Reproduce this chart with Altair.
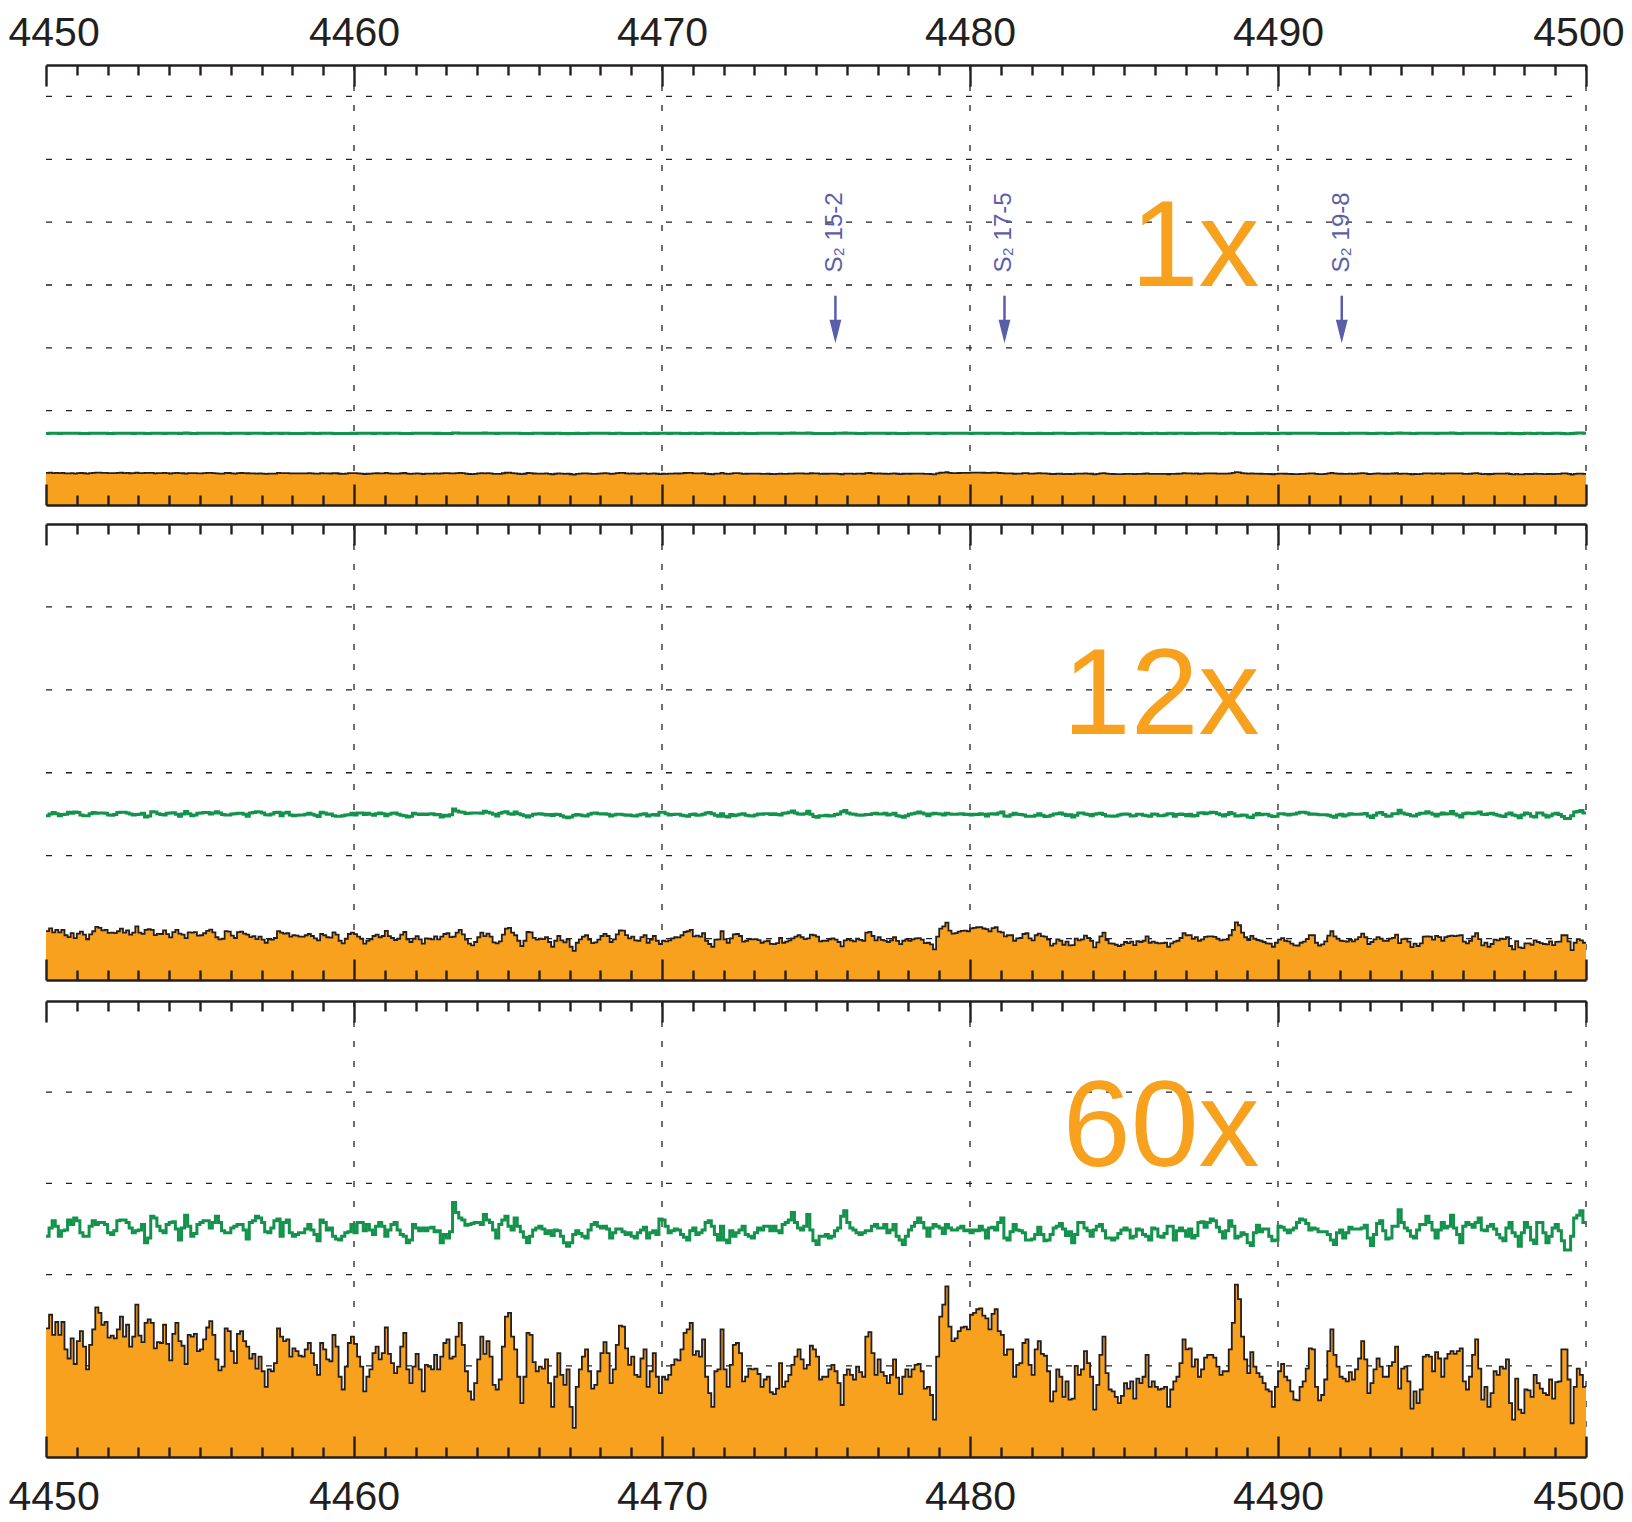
import altair as alt
import numpy as np
import pandas as pd

# ------------------------------------------------------------------ data
LAM_START = 4450.0   # first bin edge (Angstrom)
LAM_STEP = 0.1       # bin width (Angstrom)

# observed spectrum (orange), units: 0.1 grid step of the 60x panel
FLUX = [
    # 4450.0 - 4456.2
    14.1, 15.6, 13.4, 14.8, 13.4, 14.8, 11.8, 10.8, 13.0, 10.2,
    12.7, 13.8, 12.1, 9.6, 12.3, 14.0, 16.4, 15.8, 14.5, 14.8,
    13.1, 13.3, 13.0, 14.0, 15.4, 13.2, 14.5, 12.1, 13.2, 16.7,
    13.3, 12.6, 14.7, 15.1, 14.7, 11.9, 12.6, 12.5, 14.5, 12.4,
    10.6, 13.5, 14.7, 12.7, 12.2, 10.2, 13.4, 13.2, 13.5, 11.6,
    11.8, 12.9, 14.2, 14.9, 13.4, 10.7, 9.5, 9.9, 14.1, 13.8,
    11.6, 10.3, 13.5,
    # 4456.3 - 4462.4
    13.8, 12.7, 12.1, 10.8, 11.3, 9.7, 11.0, 9.4, 7.7, 9.6,
    9.4, 10.3, 14.1, 13.2, 12.7, 12.9, 11.0, 11.9, 11.6, 11.1,
    11.0, 11.8, 12.5, 11.4, 10.1, 9.0, 12.5, 11.8, 10.7, 10.5,
    13.4, 12.1, 8.8, 7.4, 9.9, 12.5, 13.2, 12.4, 11.0, 9.9,
    7.2, 8.8, 9.6, 11.4, 12.1, 10.7, 11.4, 14.2, 11.3, 10.3,
    9.2, 9.9, 12.1, 13.6, 9.6, 8.1, 9.9, 11.3, 9.6, 7.2,
    10.1, 9.9,
    # 4462.5 - 4468.7
    9.6, 11.2, 9.6, 11.0, 12.5, 12.9, 10.8, 11.0, 13.2, 14.7,
    12.3, 9.4, 7.2, 6.3, 8.1, 10.7, 13.2, 11.3, 12.7, 11.0,
    7.9, 7.4, 8.5, 12.1, 15.4, 15.8, 13.2, 11.8, 8.8, 5.9,
    8.8, 13.6, 13.4, 10.4, 9.4, 9.9, 9.7, 10.7, 8.1, 5.5,
    8.8, 11.4, 9.0, 7.9, 9.6, 5.5, 3.2, 7.7, 9.6, 11.0,
    11.8, 9.4, 7.5, 7.9, 9.4, 11.4, 12.6, 11.4, 8.1, 9.6,
    12.3, 14.4, 14.3,
    # 4468.8 - 4475.0
    11.9, 10.1, 11.0, 9.0, 8.8, 10.8, 11.8, 7.7, 9.4, 11.4,
    8.8, 7.0, 8.8, 8.5, 9.0, 10.1, 10.7, 10.6, 11.8, 13.6,
    14.0, 14.7, 11.2, 11.6, 11.0, 12.9, 8.8, 7.0, 5.5, 9.4,
    9.6, 14.0, 9.6, 7.7, 10.1, 12.3, 12.5, 11.4, 8.3, 8.8,
    9.7, 9.6, 9.7, 9.1, 7.7, 8.5, 8.8, 7.1, 6.9, 7.5,
    10.3, 7.7, 8.3, 9.0, 10.1, 11.0, 11.8, 10.7, 9.7, 10.1,
    12.2, 11.8, 11.0,
    # 4475.1 - 4481.2
    8.5, 8.8, 8.8, 9.6, 10.1, 9.4, 8.1, 5.7, 9.0, 9.6,
    9.0, 8.5, 9.9, 9.3, 8.8, 13.2, 13.7, 11.4, 9.0, 10.7,
    9.3, 8.9, 8.1, 9.0, 10.7, 8.7, 6.9, 8.8, 9.6, 8.8,
    9.6, 10.1, 10.2, 9.4, 7.5, 7.7, 6.8, 4.1, 11.0, 15.4,
    16.7, 18.7, 14.3, 12.7, 13.0, 13.8, 14.2, 14.3, 14.0, 15.6,
    15.8, 16.2, 16.3, 15.5, 15.2, 14.0, 15.7, 16.2, 13.8, 13.4,
    11.2, 11.8,
    # 4481.3 - 4487.5
    11.8, 8.8, 10.1, 10.3, 12.5, 12.9, 10.1, 9.0, 11.8, 12.7,
    11.3, 11.1, 9.4, 6.1, 7.2, 9.6, 8.8, 6.6, 8.3, 6.3,
    6.4, 10.0, 9.0, 9.6, 11.6, 10.3, 8.8, 5.2, 7.9, 11.2,
    13.2, 9.2, 7.4, 7.2, 6.6, 5.9, 6.7, 8.1, 7.5, 8.3,
    6.4, 8.6, 8.1, 8.8, 11.2, 7.7, 8.3, 7.7, 7.4, 7.5,
    7.7, 5.5, 7.4, 8.3, 8.8, 10.3, 12.9, 11.8, 11.9, 9.9,
    10.7, 8.8, 9.6,
    # 4487.6 - 4493.7
    10.9, 11.2, 11.2, 10.9, 9.9, 9.0, 9.4, 9.4, 11.8, 14.7,
    18.9, 17.3, 13.2, 10.7, 9.2, 11.5, 9.9, 9.2, 8.8, 8.1,
    7.4, 7.2, 5.5, 7.7, 9.4, 10.2, 8.8, 8.4, 7.2, 6.3,
    6.2, 7.7, 8.3, 9.7, 11.9, 11.8, 7.7, 6.2, 6.8, 8.5,
    11.6, 14.0, 11.2, 9.9, 8.8, 8.6, 8.3, 9.3, 8.5, 9.6,
    10.8, 12.7, 10.7, 7.0, 8.1, 9.6, 10.8, 9.9, 8.8, 8.8,
    10.0, 10.4,
    # 4493.8 - 4499.9
    12.1, 7.5, 9.7, 9.9, 8.3, 5.3, 7.2, 5.9, 7.4, 11.0,
    11.2, 11.0, 9.4, 11.5, 10.8, 8.8, 10.8, 11.3, 11.6, 11.3,
    11.6, 11.9, 8.3, 7.4, 8.8, 11.2, 12.9, 9.7, 6.3, 7.7,
    5.5, 7.0, 9.4, 9.0, 9.9, 9.7, 10.7, 5.9, 4.1, 8.6,
    5.2, 4.8, 7.4, 7.3, 6.6, 9.0, 8.1, 7.5, 7.0, 6.8,
    8.5, 6.4, 8.2, 8.3, 11.8, 11.8, 8.5, 3.7, 7.7, 9.7,
    9.0, 7.7,
]

# second trace (green), same units
RESID = [
    # 4450.0 - 4456.2
    24.2, 25.1, 25.9, 25.3, 24.2, 24.8, 24.9, 26.0, 25.5, 26.2,
    25.9, 24.6, 24.2, 24.2, 25.3, 25.9, 25.5, 25.7, 25.7, 25.5,
    24.6, 24.4, 24.8, 25.9, 26.0, 26.0, 25.7, 25.1, 24.6, 24.8,
    24.9, 25.5, 23.5, 24.0, 26.4, 26.2, 25.3, 24.8, 24.6, 25.5,
    25.7, 25.8, 25.0, 23.8, 25.1, 26.5, 25.3, 24.2, 24.5, 25.5,
    25.7, 25.9, 25.9, 25.1, 25.7, 26.4, 25.7, 24.8, 24.6, 24.6,
    25.1, 25.3, 25.5,
    # 4456.3 - 4462.4
    25.5, 24.9, 23.9, 25.7, 25.9, 26.4, 26.2, 25.7, 24.7, 24.6,
    25.1, 25.9, 26.1, 24.2, 25.7, 26.0, 24.6, 24.2, 24.4, 24.6,
    24.6, 25.0, 25.5, 24.9, 24.4, 23.7, 26.0, 25.7, 24.9, 25.1,
    24.2, 23.9, 23.8, 24.2, 24.6, 24.7, 25.5, 24.6, 25.7, 25.7,
    24.8, 25.5, 24.9, 24.4, 25.3, 25.7, 25.3, 24.2, 24.9, 25.5,
    25.7, 24.9, 24.4, 24.2, 23.5, 23.8, 25.5, 25.1, 24.8, 25.1,
    24.8, 25.1,
    # 4462.5 - 4468.7
    25.2, 24.7, 24.8, 23.5, 24.4, 24.0, 24.7, 27.9, 26.8, 26.2,
    26.0, 25.4, 25.5, 25.6, 25.7, 25.7, 25.5, 26.6, 26.0, 25.7,
    24.9, 24.0, 25.5, 26.0, 26.4, 25.3, 24.9, 26.2, 25.3, 24.7,
    24.1, 23.5, 24.2, 24.9, 25.1, 25.3, 25.0, 24.5, 24.8, 24.3,
    24.9, 24.8, 24.2, 23.5, 23.1, 23.5, 24.4, 24.8, 24.5, 24.2,
    24.0, 24.9, 25.5, 25.7, 25.3, 25.1, 25.3, 25.0, 24.0, 24.6,
    25.0, 25.0, 24.7,
    # 4468.8 - 4475.0
    24.4, 24.6, 24.2, 24.0, 24.6, 24.9, 25.2, 24.0, 24.6, 24.8,
    24.4, 26.1, 26.0, 25.3, 24.6, 24.8, 25.0, 24.9, 24.4, 24.1,
    23.8, 24.8, 25.1, 24.4, 24.6, 24.9, 25.7, 25.9, 25.3, 24.4,
    23.8, 25.3, 23.8, 23.5, 24.8, 24.2, 24.6, 24.9, 25.3, 24.4,
    24.2, 24.0, 24.6, 25.1, 24.9, 25.3, 25.3, 24.8, 25.3, 24.8,
    24.6, 25.5, 25.7, 26.0, 26.8, 25.7, 25.1, 24.9, 25.3, 26.6,
    24.9, 23.7, 23.3,
    # 4475.1 - 4481.2
    24.2, 24.2, 24.4, 24.0, 24.2, 24.8, 25.1, 26.4, 27.0, 25.7,
    25.1, 24.9, 24.6, 24.4, 24.6, 24.8, 24.8, 25.3, 25.5, 25.1,
    25.1, 25.5, 24.6, 24.9, 25.5, 24.2, 23.8, 23.3, 24.2, 24.9,
    25.3, 25.7, 26.2, 25.7, 25.1, 24.2, 25.1, 25.5, 25.3, 25.1,
    24.5, 25.5, 25.1, 24.9, 24.9, 25.1, 25.3, 24.8, 24.9, 24.6,
    24.9, 24.8, 25.3, 24.9, 24.0, 25.1, 25.2, 24.9, 25.7, 26.2,
    24.0, 23.8,
    # 4481.3 - 4487.5
    24.7, 25.5, 24.9, 24.8, 24.6, 23.8, 23.8, 23.9, 24.4, 25.2,
    24.4, 23.7, 23.8, 24.4, 25.1, 25.3, 25.6, 25.0, 24.3, 24.7,
    23.5, 24.4, 25.7, 25.7, 25.1, 24.8, 24.2, 24.9, 25.3, 25.5,
    24.8, 24.0, 24.0, 23.8, 24.0, 24.5, 24.9, 25.1, 24.9, 24.0,
    24.2, 25.0, 24.9, 24.4, 24.2, 23.8, 25.1, 25.0, 24.2, 24.1,
    24.5, 25.3, 25.3, 23.8, 24.8, 25.1, 24.8, 24.2, 25.0, 24.0,
    24.3, 25.7, 25.8,
    # 4487.6 - 4493.7
    25.2, 25.7, 26.1, 25.9, 25.2, 24.7, 24.0, 24.8, 25.9, 25.3,
    24.0, 24.2, 24.6, 24.4, 23.5, 23.2, 24.6, 25.4, 24.7, 25.0,
    25.0, 24.2, 23.7, 23.8, 25.3, 25.2, 24.9, 24.6, 24.9, 25.1,
    25.7, 26.1, 26.0, 25.6, 24.9, 25.1, 25.0, 24.7, 24.7, 24.7,
    24.4, 23.8, 23.3, 24.6, 24.9, 24.0, 24.6, 25.2, 25.0, 25.0,
    25.0, 25.1, 25.4, 24.0, 23.2, 24.4, 25.6, 25.9, 24.8, 23.9,
    24.0, 25.3,
    # 4493.8 - 4499.9
    25.3, 27.1, 25.7, 25.1, 24.8, 24.2, 24.0, 24.9, 25.5, 25.5,
    26.4, 25.7, 24.9, 24.0, 24.9, 25.7, 25.1, 25.3, 26.5, 25.1,
    24.4, 23.5, 25.3, 25.7, 25.5, 25.2, 25.7, 26.2, 24.9, 24.8,
    25.3, 25.5, 25.0, 24.4, 24.0, 23.7, 25.1, 25.7, 24.6, 24.2,
    23.1, 24.6, 25.7, 25.2, 23.8, 23.4, 25.7, 25.7, 24.6, 23.5,
    24.2, 25.1, 25.5, 24.8, 23.7, 22.7, 22.7, 24.2, 26.2, 26.5,
    27.0, 25.7,
]

assert len(FLUX) == 500, len(FLUX)
assert len(RESID) == 500, len(RESID)

TICKS_MINOR = list(range(4450, 4501, 1))
TICKS_MAJOR = list(range(4450, 4501, 10))
GRID_X = [4460, 4470, 4480, 4490, 4500]

PANEL_NAMES = ["1x", "12x", "60x"]
PANEL_HEIGHT = [440, 456, 456]
Y_LO = [-5, -5, 0]
Y_HI = [65, 50, 50]
GRID_Y = [[0, 10, 20, 30, 40, 50, 60], [0, 10, 20, 30, 40], [10, 20, 30, 40]]
GAIN = [0.0242, 0.22, 1.0]          # vertical magnification in panel units
ORANGE_LEVEL = [0, 0, 10]
GREEN_LEVEL = [6.4, 15, 25]
FLUX_REF = 10
RESID_REF = 25
LABEL_LAM = 4489.4
LABEL_Y = [29.8, 24.7, 31.9]

ANNOT_TEXT = ["S\u2082 15-2", "S\u2082 17-5", "S\u2082 19-8"]
ANNOT_LAM = [4475.63, 4481.12, 4492.07]
ANNOT_TEXT_Y = 32.0
ARROW_TOP = 28.3
ARROW_STEM_END = 24.0
ARROW_HEAD_Y = 22.6

# ------------------------------------------------------------------ style
BLACK = "#231F20"
ORANGE = "#F7A11E"
GREEN = "#12924A"
BLUE = "#5A5EAA"
FONT = "Liberation Sans"
WIDTH = 1540
ARROW_PATH = "M -0.5 -1 L 0.5 -1 L 0 1 Z"
DASH = [6, 14]

lam = LAM_START + LAM_STEP * np.arange(len(FLUX) + 1)
flux = np.array(FLUX + FLUX[-1:])
resid = np.array(RESID + RESID[-1:])

xsc = alt.Scale(domain=[4450, 4500], nice=False, zero=False)
TICK_SIZE = {"condition": {"test": "datum.value % 10 === 0", "value": 21}, "value": 10}


def tick_axis(orient, H):
    return alt.Axis(orient=orient, offset=-H, values=TICKS_MINOR, labels=False,
                    grid=False, title=None, domain=True, domainColor=BLACK,
                    domainWidth=2.6, ticks=True, tickColor=BLACK, tickWidth=2.4,
                    tickSize=TICK_SIZE, zindex=2)


def label_axis(orient):
    return alt.Axis(orient=orient, values=TICKS_MAJOR, format="d", labels=True,
                    grid=False, title=None, domain=False, ticks=False, tickSize=0,
                    labelFont=FONT, labelFontSize=41, labelColor=BLACK,
                    labelPadding=11 if orient == "top" else 20,
                    labelFlush=True, labelFlushOffset=38, zindex=2)


def X(axis):
    return alt.X("lam:Q", scale=xsc, axis=axis)


def make_panel(i):
    H = PANEL_HEIGHT[i]
    ysc = alt.Scale(domain=[Y_LO[i], Y_HI[i]], nice=False, zero=False)
    df = pd.DataFrame({
        "lam": lam,
        "orange": ORANGE_LEVEL[i] + (flux - FLUX_REF) * GAIN[i],
        "green": GREEN_LEVEL[i] + (resid - RESID_REF) * GAIN[i],
        "bottom": float(Y_LO[i]),
    })
    gridx = alt.Chart(pd.DataFrame({"lam": GRID_X})).mark_rule(
        color=BLACK, strokeWidth=1.3, strokeDash=DASH).encode(x=X(None))
    gridy = alt.Chart(pd.DataFrame({"v": GRID_Y[i]})).mark_rule(
        color=BLACK, strokeWidth=1.3, strokeDash=DASH, strokeDashOffset=6).encode(
        y=alt.Y("v:Q", scale=ysc, axis=None))
    area = alt.Chart(df).mark_area(interpolate="step-after", color=ORANGE, opacity=1).encode(
        x=X(tick_axis("bottom", H)),
        y=alt.Y("orange:Q", scale=ysc, axis=None),
        y2="bottom:Q")
    outline = alt.Chart(df).mark_line(interpolate="step-after", color=BLACK, strokeWidth=1.8).encode(
        x=X(tick_axis("top", H)),
        y=alt.Y("orange:Q", scale=ysc, axis=None))
    if i == 0:
        gaxis = label_axis("top")
    elif i == 2:
        gaxis = label_axis("bottom")
    else:
        gaxis = None
    green = alt.Chart(df).mark_line(interpolate="step-after", color=GREEN, strokeWidth=3).encode(
        x=X(gaxis),
        y=alt.Y("green:Q", scale=ysc, axis=None))
    lab = alt.Chart(pd.DataFrame({"lam": [LABEL_LAM], "y": [LABEL_Y[i]], "t": [PANEL_NAMES[i]]})).mark_text(
        font=FONT, fontSize=122, color=ORANGE, align="right", baseline="alphabetic").encode(
        x=X(None), y=alt.Y("y:Q", scale=ysc, axis=None), text="t:N")
    layers = [gridx, gridy, area, outline, green, lab]
    if i == 0:
        ann = pd.DataFrame({"lam": ANNOT_LAM, "t": ANNOT_TEXT})
        ann["ty"] = ANNOT_TEXT_Y
        ann["s1"] = ARROW_TOP
        ann["s2"] = ARROW_STEM_END
        ann["hy"] = ARROW_HEAD_Y
        base = alt.Chart(ann)
        layers += [
            base.mark_text(font=FONT, fontSize=24, color=BLUE, angle=270, align="left",
                           baseline="middle").encode(
                x=X(None), y=alt.Y("ty:Q", scale=ysc, axis=None), text="t:N"),
            base.mark_rule(color=BLUE, strokeWidth=2.5).encode(
                x=X(None), y=alt.Y("s1:Q", scale=ysc, axis=None), y2="s2:Q"),
            base.mark_point(shape=ARROW_PATH, filled=True, size=560, color=BLUE,
                            opacity=1, strokeWidth=0).encode(
                x=X(None), y=alt.Y("hy:Q", scale=ysc, axis=None)),
        ]
    return alt.layer(*layers).resolve_axis(x="independent").properties(width=WIDTH, height=H)


p0, p1, p2 = (make_panel(i) for i in range(3))

chart = alt.vconcat(
    p0,
    alt.vconcat(p1, p2, spacing=21, bounds="flush"),
    spacing=19, bounds="flush",
).properties(
    padding={"left": 0, "top": 4, "right": 0, "bottom": 0},
    background="white",
).configure_view(strokeWidth=0)

chart.save("out.html", embed_options={"renderer": "svg", "actions": False})
